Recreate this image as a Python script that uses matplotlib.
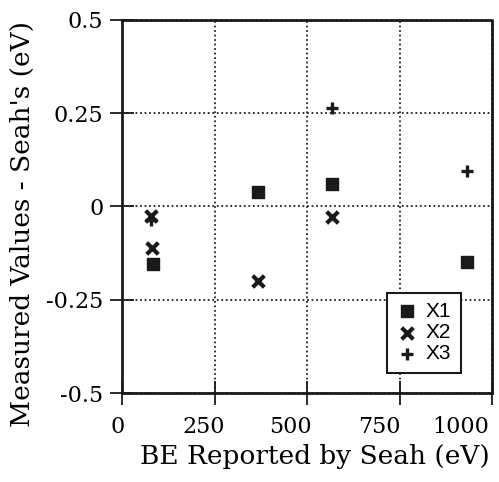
import matplotlib
matplotlib.use("Agg")
import matplotlib.pyplot as plt
from matplotlib.transforms import ScaledTranslation

x1 = [84, 368, 568, 932]
y1 = [-0.155, 0.04, 0.06, -0.15]
x2 = [78, 82, 368, 568]
y2 = [-0.025, -0.11, -0.20, -0.028]
x3 = [78, 568, 932]
y3 = [-0.035, 0.265, 0.095]

xticks = [0, 250, 500, 750, 1000]
yticks = [-0.5, -0.25, 0, 0.25, 0.5]
xticklabels = ["0", "250", "500", "750", "1000"]
yticklabels = ["-0.5", "-0.25", "0", "0.25", "0.5"]

fig = plt.figure(figsize=(4.99, 4.82), dpi=100)
ax = fig.add_axes([0.2445, 0.1846, 0.7415, 0.774])

ax.scatter(x1, y1, marker="s", s=85, color="#1a1a1a", label="X1", zorder=3)
ax.scatter(x2, y2, marker="x", s=70, color="#1a1a1a", linewidths=3, label="X2", zorder=3)
ax.scatter(x3, y3, marker="+", s=70, color="#1a1a1a", linewidths=2.4, label="X3", zorder=3)

ax.set_xlim(0, 1000)
ax.set_ylim(-0.5, 0.5)
ax.set_xticks(xticks)
ax.set_yticks(yticks)
serif = "DejaVu Serif"
ax.set_xticklabels(xticklabels, fontfamily=serif, fontsize=16)
ax.set_yticklabels(yticklabels, fontfamily=serif, fontsize=16)
ax.tick_params(direction="inout", length=17, width=1.3, color="#1a1a1a")
ax.tick_params(axis="x", pad=8)
ax.tick_params(axis="y", pad=5)
ax.grid(True, linestyle=(0, (1, 1.5)), color="#222222", linewidth=1.3)

# the original's x tick labels sit progressively left of their ticks
shifts_px = [-4, -11, -17, -20, -31]
for lab, dx in zip(ax.get_xticklabels(), shifts_px):
    lab.set_transform(lab.get_transform() + ScaledTranslation(dx / 100, 0, fig.dpi_scale_trans))

for s in ["left", "bottom"]:
    ax.spines[s].set_linewidth(2.0)
    ax.spines[s].set_color("#1a1a1a")
for s in ["top", "right"]:
    ax.spines[s].set_linewidth(2.0)
    ax.spines[s].set_linestyle((0, (1, 0.8)))
    ax.spines[s].set_color("#1a1a1a")

ax.set_xlabel("BE Reported by Seah (eV)", fontfamily=serif, fontsize=19)
ax.set_ylabel("Measured Values - Seah's (eV)", fontfamily=serif, fontsize=19)
ax.xaxis.set_label_coords(0.52, -0.137)
ax.yaxis.set_label_coords(-0.235, 0.453)

leg = ax.legend(loc="lower right", bbox_to_anchor=(0.915, 0.055), frameon=True, fancybox=False,
                prop={"family": "Liberation Sans", "size": 15}, handletextpad=0.4,
                handlelength=1.0, labelspacing=0.1, borderpad=0.45, borderaxespad=0)
leg.get_frame().set_edgecolor("#1a1a1a")
leg.get_frame().set_linewidth(1.5)
leg.get_frame().set_alpha(1)

fig.savefig("out.png", dpi=100)
